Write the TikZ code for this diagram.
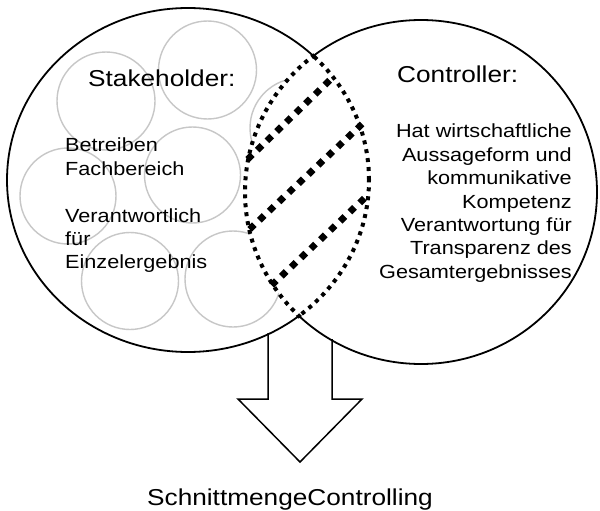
\documentclass[tikz,border=0pt]{standalone}
\usepackage{fontspec}
\setmainfont{Liberation Sans}[FakeStretch=1.14]
\usetikzlibrary{decorations.markings}
\begin{document}
\begin{tikzpicture}[x=1pt,y=-1pt,
  graycirc/.style={draw=black!22, line width=1.4pt},
  outline/.style={draw=black, line width=1.8pt},
  lensdots/.style={draw=black, line width=4pt, dash pattern=on 4pt off 5pt},
  hatch/.style={decorate, decoration={markings,
      mark=between positions 0 and 1 step 13.4pt with {\pgftransformresetnontranslations
        \fill[black] (0pt,-4.7pt) -- (4.7pt,0pt) -- (0pt,4.7pt) -- (-4.7pt,0pt) -- cycle;}}},
  heading/.style={font=\fontsize{23}{27}\selectfont, inner sep=0pt},
  body/.style={font=\fontsize{19}{23.4}\selectfont, inner sep=0pt},
  blockarrow/.style={draw=black, line width=1.5pt, line join=miter}
]
\useasboundingbox (0,0) rectangle (600,511);
\fill[white] (0,0) rectangle (600,511);
\coordinate (L) at (188,180);
\coordinate (R) at (421,192);
% gray circles
\draw[graycirc] (106,101) circle[radius=49pt];
\draw[graycirc] (207.5,70) circle[radius=49pt];
\draw[graycirc] (192.5,175) circle[radius=48pt];
\draw[graycirc] (68,196) circle[radius=48pt];
\draw[graycirc] (130,281) circle[radius=48.5pt];
\draw[graycirc] (233,279) circle[radius=48pt];
\draw[graycirc] (300,128) circle[radius=50pt];
% lens white
\begin{scope}
  \clip (L) ellipse [x radius=181pt, y radius=172pt];
  \fill[white] (R) ellipse [x radius=176pt, y radius=172pt];
\end{scope}
% solid outlines outside the lens
\begin{scope}[even odd rule]
  \clip (-20,-20) rectangle (620,531) (R) ellipse [x radius=176pt, y radius=172pt];
  \draw[outline] (L) ellipse [x radius=181pt, y radius=172pt];
\end{scope}
\begin{scope}[even odd rule]
  \clip (-20,-20) rectangle (620,531) (L) ellipse [x radius=181pt, y radius=172pt];
  \draw[outline] (R) ellipse [x radius=176pt, y radius=172pt];
\end{scope}
% dotted lens arcs
\begin{scope}
  \clip (R) ellipse [x radius=178pt, y radius=174pt];
  \draw[lensdots] (L) ellipse [x radius=181pt, y radius=172pt];
\end{scope}
\begin{scope}
  \clip (L) ellipse [x radius=183pt, y radius=174pt];
  \draw[lensdots] (R) ellipse [x radius=176pt, y radius=172pt];
\end{scope}
% hatching
\coordinate (h1a) at (250,157); \coordinate (h1b) at (330,80);
\coordinate (h2a) at (252,227); \coordinate (h2b) at (360,126);
\coordinate (h3a) at (274,283); \coordinate (h3b) at (369,194);
\path[hatch] (h1a) -- (h1b);
\path[hatch] (h2a) -- (h2b);
\path[hatch] (h3a) -- (h3b);
% block arrow
\coordinate (a1) at (268,333);
\coordinate (a2) at (268,399);
\coordinate (a3) at (238,399);
\coordinate (tip) at (300,462);
\coordinate (a5) at (362,399);
\coordinate (a6) at (332,399);
\coordinate (a7) at (332,339);
\draw[blockarrow] (a1) -- (a2) -- (a3) -- (tip) -- (a5) -- (a6) -- (a7);
% texts
\node[heading, anchor=base west] (stake) at (88,87) {Stakeholder:};
\node[heading, anchor=base west] (contr) at (397,83) {Controller:};
\node[body, anchor=north west, align=left] (stxt) at (65,138)
  {Betreiben\\Fachbereich\\[23.4pt]Verantwortlich\\für\\Einzelergebnis};
\node[body, anchor=north east, align=right] (ctxt) at (572,124)
  {Hat wirtschaftliche\\Aussageform und\\kommunikative\\Kompetenz\hspace*{8pt}\\Verantwortung für\\Transparenz des\hspace*{8pt}\\Gesamtergebnisses};
\node[heading, anchor=base] (schnitt) at (290,505) {SchnittmengeControlling};
\end{tikzpicture}
\end{document}
